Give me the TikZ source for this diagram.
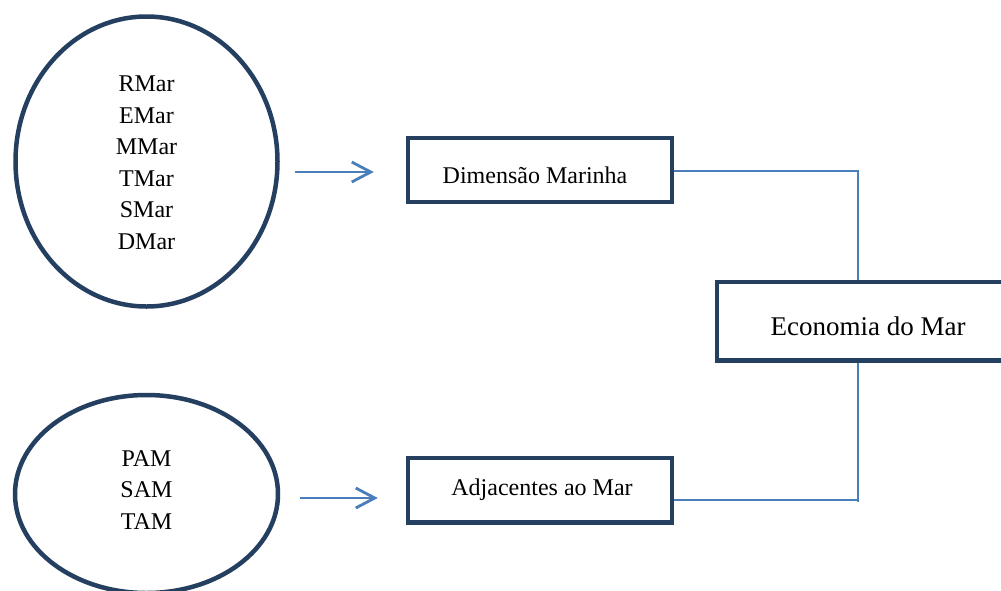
\documentclass[tikz,border=0pt]{standalone}
\usepackage{fontspec}
\setmainfont{Liberation Serif}
\usetikzlibrary{arrows.meta,shapes.geometric}
\definecolor{navy}{HTML}{243F60}
\definecolor{lineblue}{HTML}{4A7EBB}
\tikzset{
  oval/.style={draw=navy, line width=4.5pt, ellipse, inner sep=0pt},
  boxnode/.style={draw=navy, line width=4.5pt, rectangle, inner sep=0pt, fill=white},
  link/.style={draw=lineblue, line width=1.7pt},
  flow/.style={draw=lineblue, line width=2.8pt, -{Straight Barb[length=19pt,width=20pt,line width=2.8pt]}},
  lbl/.style={font=\fontsize{24}{31.5}\selectfont, align=center, inner sep=0pt}
}
\begin{document}
\begin{tikzpicture}[x=1pt,y=-1pt]
\useasboundingbox (0,0) rectangle (1001,590);
\clip (0,0) rectangle (1001,590);
\fill[white] (0,0) rectangle (1001,590);
% ellipses
\node[oval, minimum width=262pt, minimum height=290pt] (e1) at (146.5,161.5) {};
\node[lbl] (t1) at (146.5,163) {RMar\\EMar\\MMar\\TMar\\SMar\\DMar};
\node[oval, minimum width=263pt, minimum height=198pt] (e2) at (146.5,494) {};
\node[lbl] (t2) at (146.5,490) {PAM\\SAM\\TAM};
% boxes
\node[boxnode, minimum width=264pt, minimum height=64pt] (dim) at (540,170) {};
\node[lbl] (dimt) at (535,175) {Dimensão Marinha};
\node[boxnode, minimum width=264pt, minimum height=64.5pt] (adj) at (540,490) {};
\node[lbl] (adjt) at (542,490) {Adjacentes ao Mar};
\node[boxnode, minimum width=302pt, minimum height=78.5pt] (eco) at (868,321) {};
\node[lbl, font=\fontsize{27}{32}\selectfont] (ecot) at (868,326) {Economia do Mar};
% connectors
\coordinate (c1) at (858,171);
\coordinate (c2) at (858,500);
\draw[link] (dim.east |- c1) -- (c1) -- (c1 |- eco.north);
\draw[link] (c2 |- eco.south) -- ([yshift=-1.5pt]c2);
\draw[link] (adj.east |- c2) -- (c2);
% arrows
\coordinate (a1) at (295,172);
\coordinate (a2) at (300,498);
\draw[flow, shorten >=32pt] (a1) -- (a1 -| dim.west);
\draw[flow, shorten >=28pt] (a2) -- (a2 -| adj.west);
\end{tikzpicture}
\end{document}
